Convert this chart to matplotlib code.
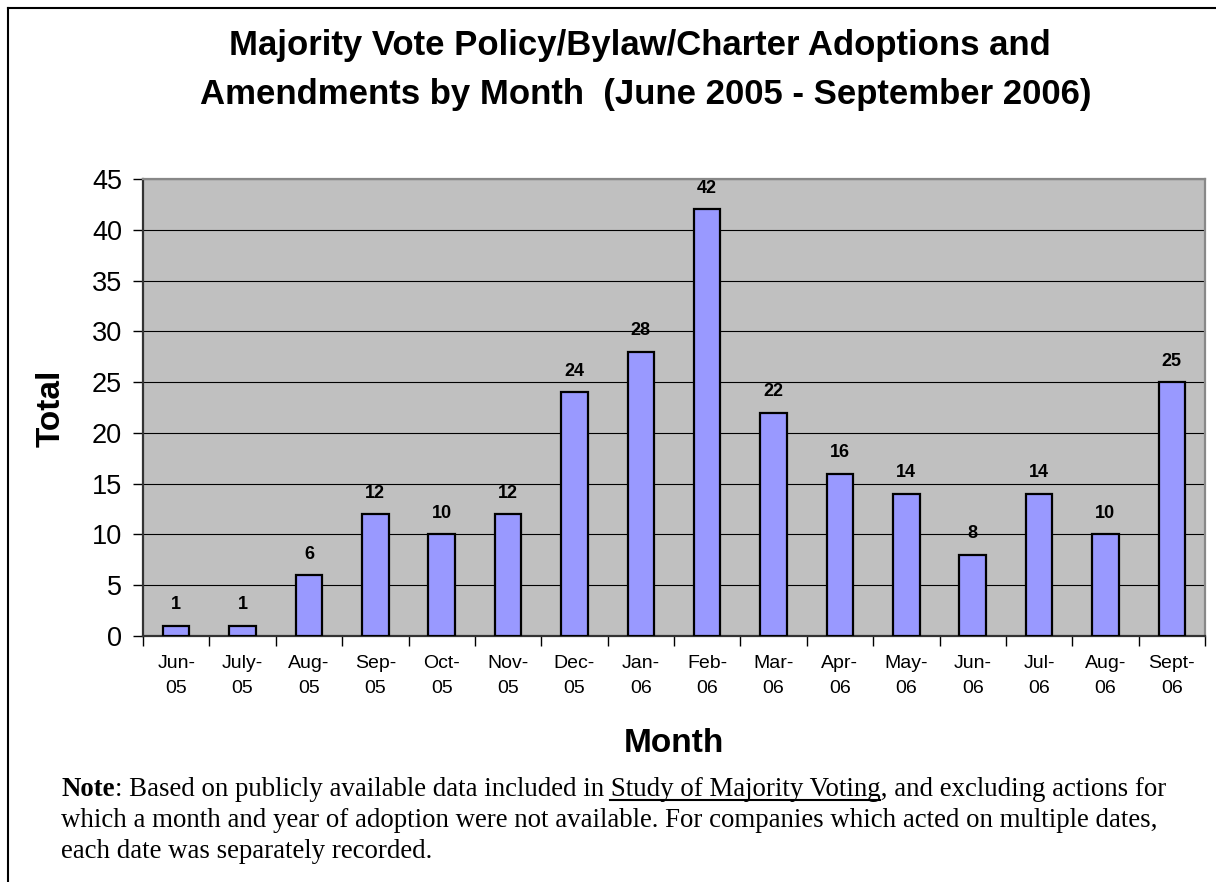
import numpy as np
import matplotlib
matplotlib.use("Agg")
import matplotlib.pyplot as plt
from matplotlib.lines import Line2D

plt.rcParams['font.family'] = ['Liberation Sans', 'DejaVu Sans']

months = ["Jun-\n05", "July-\n05", "Aug-\n05", "Sep-\n05", "Oct-\n05", "Nov-\n05",
          "Dec-\n05", "Jan-\n06", "Feb-\n06", "Mar-\n06", "Apr-\n06", "May-\n06",
          "Jun-\n06", "Jul-\n06", "Aug-\n06", "Sept-\n06"]
totals = [1, 1, 6, 12, 10, 12, 24, 28, 42, 22, 16, 14, 8, 14, 10, 25]

title_lines = ["Majority Vote Policy/Bylaw/Charter Adoptions and",
               "Amendments by Month  (June 2005 - September 2006)"]
note_bold = "Note"
note_before = ": Based on publicly available data included in"
note_link = "Study of Majority Voting"
note_after = ", and excluding actions for"
note_rest = ["which a month and year of adoption were not available. For companies which acted on multiple dates,",
             "each date was separately recorded."]

W, H = 1216, 882
fig = plt.figure(figsize=(W / 100, H / 100), dpi=100)

# axes box in pixel terms
left, right, top, bottom = 143, 1205, 179, 636
ax = fig.add_axes([left / W, 1 - bottom / H, (right - left) / W, (bottom - top) / H])
ax.set_facecolor('#C0C0C0')

x = np.arange(len(totals))
bars = ax.bar(x, totals, width=0.4, color='#9999FF', edgecolor='black', linewidth=1.6, zorder=3)
for xi, v in zip(x, totals):
    ax.annotate(str(v), (xi, v), xytext=(0, 9), textcoords='offset points',
                ha='center', va='bottom', fontsize=13, fontweight='bold', zorder=4)

ax.set_xlim(-0.5, len(totals) - 0.5)
ax.set_ylim(0, 45)
ax.set_yticks(np.arange(0, 46, 5))
ax.tick_params(axis='y', labelsize=19.5, length=7.2, width=1, direction='out', pad=8)
ax.set_xticks(x)
ax.set_xticklabels(months, fontsize=14, linespacing=1.6)
ax.tick_params(axis='x', which='major', length=0, pad=14)
ax.set_xticks(np.arange(-0.5, len(totals)), minor=True)
ax.tick_params(axis='x', which='minor', length=7.2, width=1, direction='out')
ax.grid(True, axis='y', color='black', linewidth=0.8, zorder=1)
ax.set_axisbelow(True)

ax.spines['left'].set_color('#333333')
ax.spines['bottom'].set_color('#333333')
ax.spines['left'].set_linewidth(1.6)
ax.spines['bottom'].set_linewidth(1.6)
ax.spines['top'].set_color('#888888')
ax.spines['right'].set_color('#888888')
ax.spines['top'].set_linewidth(1.6)
ax.spines['right'].set_linewidth(1.6)

fig.text(51 / W, 1 - 408 / H, "Total", rotation=90, ha='center', va='center',
         fontsize=24, fontweight='bold')
fig.text(674 / W, 1 - 752 / H, "Month", ha='center', va='baseline',
         fontsize=24, fontweight='bold')

fig.text(640 / W, 1 - 55 / H, title_lines[0], ha='center', va='baseline',
         fontsize=25, fontweight='bold')
fig.text(646 / W, 1 - 104 / H, title_lines[1], ha='center', va='baseline',
         fontsize=25, fontweight='bold')

# outer frame: top and left edges only
fig.add_artist(Line2D([8 / W, 8 / W], [0, 1 - 8 / H], color='black', linewidth=1.5,
                      transform=fig.transFigure))
fig.add_artist(Line2D([8 / W, 1], [1 - 8 / H, 1 - 8 / H], color='black', linewidth=1.5,
                      transform=fig.transFigure))

# footnote in serif, with bold lead word and underlined study title
serif = ['Liberation Serif', 'DejaVu Serif']
nsize = 19.4
renderer = fig.canvas.get_renderer()


def text_width(s, **kw):
    t = fig.text(0, 0, s, fontsize=nsize, family=serif, **kw)
    w = t.get_window_extent(renderer).width
    t.remove()
    return w


space = text_width("n n") - text_width("nn")
x0 = 61
base = [796, 827, 858]
fig.text(x0 / W, 1 - base[0] / H, note_bold, fontsize=nsize, family=serif,
         fontweight='bold', va='baseline')
xb = x0 + text_width(note_bold, fontweight='bold')
fig.text(xb / W, 1 - base[0] / H, note_before + " " + note_link + note_after,
         fontsize=nsize, family=serif, va='baseline')
xs = xb + text_width(note_before) + space
xe = xs + text_width(note_link)
fig.add_artist(Line2D([xs / W, xe / W], [1 - (base[0] + 4) / H] * 2, color='black',
                      linewidth=1.5, transform=fig.transFigure))
for line, yb in zip(note_rest, base[1:]):
    fig.text(x0 / W, 1 - yb / H, line, fontsize=nsize, family=serif, va='baseline')

fig.savefig('out.png', dpi=100)
